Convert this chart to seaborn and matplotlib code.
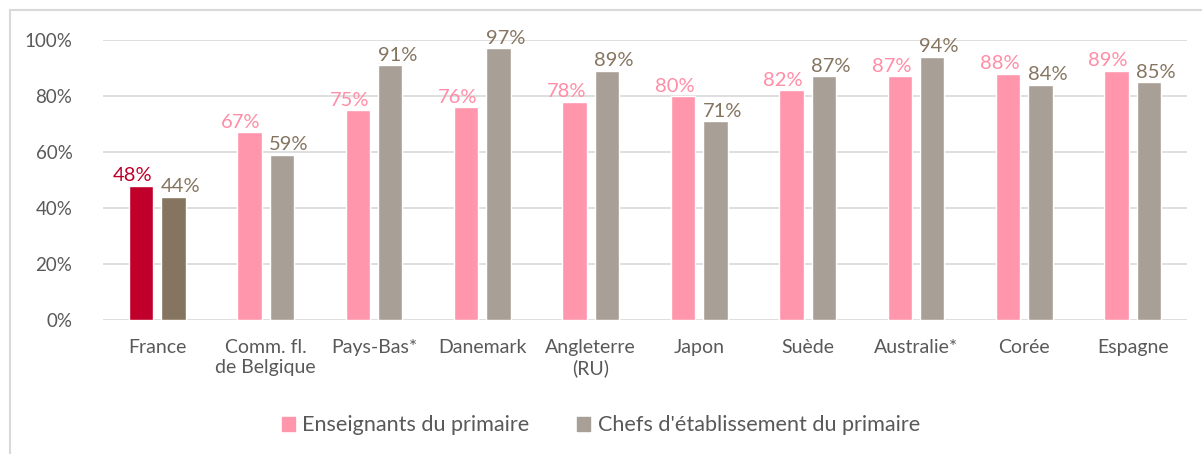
import pandas as pd
import matplotlib.pyplot as plt
import seaborn as sns
from matplotlib.lines import Line2D
from matplotlib.patches import Patch

# Data
countries = ["France", "Comm. fl.\nde Belgique", "Pays-Bas*", "Danemark", "Angleterre\n(RU)",
             "Japon", "Suède", "Australie*", "Corée", "Espagne"]
teachers = [48, 67, 75, 76, 78, 80, 82, 87, 88, 89]
principals = [44, 59, 91, 97, 89, 71, 87, 94, 84, 85]
series = ["Enseignants du primaire", "Chefs d'établissement du primaire"]

df = pd.DataFrame({
    "pays": countries * 2,
    "groupe": [series[0]] * len(countries) + [series[1]] * len(countries),
    "valeur": [v / 100 for v in teachers + principals],
})

pink, grey = "#FF96AC", "#A89F96"
red, brown = "#C0002A", "#857560"
pink_txt, grey_txt = "#FF8DA6", "#857560"

sns.set_style("white")
plt.rcParams["font.family"] = ["Lato", "DejaVu Sans"]

fig = plt.figure(figsize=(12.02, 4.54), dpi=100)
ax = fig.add_axes([0.0857, 0.2952, 0.9018, 0.6167])

sns.barplot(data=df, x="pays", y="valeur", hue="groupe", palette=[pink, grey],
            width=0.6, gap=0.25, ax=ax, legend=False, saturation=1)

# France highlighted
ax.containers[0][0].set_facecolor(red)
ax.containers[1][0].set_facecolor(brown)

# labels sit slightly outward from each pair, as in the original
shifts = [-6, 5]
for i, (cont, vals) in enumerate(zip(ax.containers, [teachers, principals])):
    for j, (bar, v) in enumerate(zip(cont, vals)):
        if j == 0:
            col = red if i == 0 else brown
        else:
            col = pink_txt if i == 0 else grey_txt
        ax.annotate(f"{v}%", (bar.get_x() + bar.get_width() / 2, bar.get_height()),
                    xytext=(shifts[i], 1), textcoords="offset points", ha="center",
                    va="bottom", fontsize=14.5, color=col)

ax.set_ylim(0, 1.0)
ax.set_xlim(-0.5, len(countries) - 0.5)
ax.set_yticks([0, 0.2, 0.4, 0.6, 0.8, 1.0])
ax.set_yticklabels(["0%", "20%", "40%", "60%", "80%", "100%"])
ax.yaxis.grid(True, color="#D9D9D9", lw=1.2)
ax.set_axisbelow(True)
for s in ax.spines.values():
    s.set_visible(False)
ax.tick_params(axis="both", length=0, labelcolor="#595959")
ax.tick_params(axis="y", pad=22, labelsize=13.5)
ax.tick_params(axis="x", pad=14, labelsize=14)
ax.set_xlabel("")
ax.set_ylabel("")

handles = [Patch(color=pink), Patch(color=grey)]
fig.legend(handles, series, loc="center", bbox_to_anchor=(0.5, 0.063), ncol=2,
           frameon=False, fontsize=15.6, handlelength=0.6, handleheight=0.6,
           handletextpad=0.35, columnspacing=2.2, labelcolor="#595959")

# chart frame (partial)
fig.add_artist(Line2D([10 / 1202, 1], [1 - 10 / 454] * 2, color="#D9D9D9", lw=1.5))
fig.add_artist(Line2D([10 / 1202] * 2, [0, 1 - 10 / 454], color="#D9D9D9", lw=1.5))

fig.savefig("out.png", dpi=100)
